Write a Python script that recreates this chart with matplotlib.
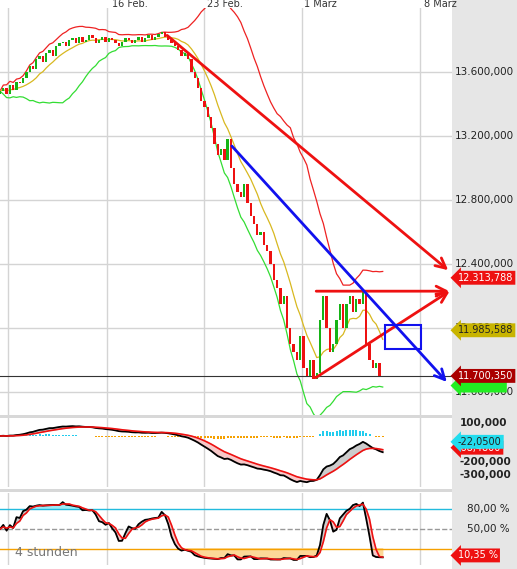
import numpy as np
import pandas as pd
import matplotlib.pyplot as plt
from matplotlib.patches import Rectangle

# closes of the 4h candles (in thousands)
closes = [13480, 13500, 13460, 13520, 13490, 13540, 13530,
          13560, 13600, 13640, 13620, 13680, 13700, 13660, 13720, 13740, 13700, 13760, 13780,
          13790, 13760, 13800, 13810, 13780, 13820, 13790, 13800, 13830, 13810, 13780, 13800,
          13820, 13790, 13810, 13800, 13780, 13760, 13790, 13810, 13800, 13780, 13800, 13820,
          13790, 13810, 13830, 13800, 13820, 13840, 13850, 13820,
          13800, 13780, 13760, 13740, 13700, 13720, 13680,
          13600, 13560, 13500, 13420, 13380, 13320,
          13250, 13150, 13080, 13120, 13050, 13180,
          13000, 12900, 12850, 12820, 12900, 12780,
          12700, 12650, 12580, 12600, 12520, 12480,
          12400, 12300, 12250, 12150, 12200,
          12000, 11900, 11850, 11800, 11950,
          11750, 11700, 11800, 11680, 11720,
          12050, 12200, 12000, 11850,
          11900, 12050, 12150, 12000,
          12150, 12200, 12100, 12180, 12150, 12230,
          11900, 11800, 11750, 11780, 11700, 11700.35]

date_pos = [2.4, 32.4, 61.8, 91.5, 127.3]
date_labels = ['16 Feb.', '23 Feb.', '1 März', '8 März']
date_label_x = [130, 225, 320, 440]
price_ticks = [11600, 12000, 12400, 12800, 13200, 13600]
macd_ticks = [100, -200, -300]
stoch_lines = [80, 50, 20]

# drawn trend lines: (x0, y0, x1, y1)
red_lines = [(50, 13840, 136.5, 12350), (95, 12230, 137, 12230), (95, 11680, 137, 12240)]
blue_line = (69.7, 13150, 136, 11650)
box = (116.7, 11870, 127.6, 12020)

s = pd.Series(closes, dtype=float)
n = len(s)
idx = np.arange(n)
opens = s.shift(1).fillna(s.iloc[0] - 20)

mid = s.rolling(20, min_periods=1).mean()
sd = s.rolling(20, min_periods=2).std().fillna(0)
upper = mid + 2 * sd
lower = mid - 2 * sd
ma = s.rolling(10, min_periods=1).mean()

ema12 = s.ewm(span=12, adjust=False).mean()
ema26 = s.ewm(span=26, adjust=False).mean()
macd = ema12 - ema26
signal = macd.ewm(span=9, adjust=False).mean()
hist = macd - signal

hh = s.rolling(14, min_periods=1).max() + 30
ll = s.rolling(14, min_periods=1).min() - 30
k = (100 * (s - ll) / (hh - ll)).rolling(3, min_periods=1).mean()
d = k.rolling(3, min_periods=1).mean()

W, H = 517, 569
fig = plt.figure(figsize=(W / 100, H / 100), dpi=100)
fig.patch.set_facecolor('white')
fig.patches.append(Rectangle((452 / W, 0), 65 / W, 1, transform=fig.transFigure,
                             facecolor='#e6e6e6', edgecolor='none', zorder=0))

def ax_at(top, bottom):
    a = fig.add_axes([0, 1 - bottom / H, 452 / W, (bottom - top) / H])
    a.set_xlim(0, 137)
    for x in date_pos:
        a.axvline(x, color='#d4d4d4', lw=1, zorder=0)
    a.set_xticks([])
    a.set_yticks([])
    for sp in a.spines.values():
        sp.set_visible(False)
    return a

ax = ax_at(8, 415)
ax.set_ylim(11456, 14000)
for p in price_ticks:
    ax.axhline(p, color='#d4d4d4', lw=1, zorder=0)
    fig.text(514 / W, ax.transData.transform((0, p))[1] / H, f'{p // 1000}.{p % 1000:03d},000',
             ha='right', va='center', fontsize=7.5, color='#222')
up = s >= opens
ax.bar(idx[up], (s - opens)[up], bottom=opens[up], width=0.7, color='#16b316', zorder=3)
ax.bar(idx[~up], (s - opens)[~up], bottom=opens[~up], width=0.7, color='#ee1111', zorder=3)
ax.plot(idx, upper, color='#ee2222', lw=0.9)
ax.plot(idx, lower, color='#33dd33', lw=0.9)
ax.plot(idx, ma, color='#d8b820', lw=0.9)
ax.axhline(11700.35, color='#333', lw=0.8)
for x0, y0, x1, y1 in red_lines:
    ax.annotate('', xy=(x1, y1), xytext=(x0, y0),
                arrowprops=dict(arrowstyle='->', color='#ee1111', lw=2, mutation_scale=18), zorder=5)
x0, y0, x1, y1 = blue_line
ax.annotate('', xy=(x1, y1), xytext=(x0, y0),
            arrowprops=dict(arrowstyle='->', color='#1111ee', lw=2, mutation_scale=18), zorder=5)
ax.add_patch(Rectangle((box[0], box[1]), box[2] - box[0], box[3] - box[1],
                       fill=False, edgecolor='#1111ee', lw=1.5, zorder=6))

def tag(yprice, text, fc, tc='white', a=ax):
    y = a.transData.transform((0, yprice))[1] / H
    fig.text(458 / W, y, text, ha='left', va='center', fontsize=7, color=tc,
             bbox=dict(boxstyle='larrow,pad=0.2', fc=fc, ec='none'), zorder=10)

tag(11640, '               ', '#22ee22')
tag(11700.35, '11.700,350', '#aa0000')
tag(11985.588, '11.985,588', '#c8b400', '#222')
tag(12313.788, '12.313,788', '#ee1111')

for x, lab in zip(date_label_x, date_labels):
    fig.text(x / W, 1 - 4 / H, lab, ha='center', va='center', fontsize=7, color='#333')

# MACD
ax2 = ax_at(418, 487)
ax2.set_ylim(-392, 138)
ax2.bar(idx, hist.clip(upper=0) * 0.3, bottom=-3, width=0.6, color='#f5a000')
ax2.bar(idx[hist > 0], hist[hist > 0] * 0.6, bottom=0, width=0.6, color='#22ccee')
ax2.fill_between(idx, macd, signal, where=macd >= signal, color='#cccccc', interpolate=True)
ax2.fill_between(idx, macd, signal, where=macd < signal, color='#f8c8c8', interpolate=True)
ax2.plot(idx, macd, color='black', lw=1.3)
ax2.plot(idx, signal, color='#ee1111', lw=1.2)
for v in macd_ticks:
    fig.text(460 / W, ax2.transData.transform((0, v))[1] / H, f'{v},000',
             ha='left', va='center', fontsize=7.5, color='#222', fontweight='bold')
tag(-90, '-68,4800', '#ee1111', a=ax2)
tag(-45, '-22,0500', '#22ddee', '#222', a=ax2)

# Stochastic
ax3 = ax_at(493, 565)
ax3.set_ylim(-4.5, 104.5)
ax3.axhline(80, color='#22bbdd', lw=1)
ax3.axhline(50, color='#999', lw=1, ls='--')
ax3.axhline(20, color='#f5a000', lw=1)
ax3.fill_between(idx, k, 80, where=k > 80, color='#9eeaf5', interpolate=True)
ax3.fill_between(idx, k, 20, where=k < 20, color='#fcd898', interpolate=True)
ax3.fill_between(idx, k, d, where=k >= d, color='#cccccc', interpolate=True)
ax3.fill_between(idx, k, d, where=k < d, color='#f8c8c8', interpolate=True)
ax3.plot(idx, k, color='black', lw=1.3)
ax3.plot(idx, d, color='#ee1111', lw=1.2)
for v in stoch_lines[:2]:
    fig.text(510 / W, ax3.transData.transform((0, v))[1] / H, f'{v},00 %',
             ha='right', va='center', fontsize=7.5, color='#222')
tag(10, '10,35 %', '#ee1111', a=ax3)
ax3.text(4.5, 15, '4 stunden', fontsize=9, color='#777', va='center')

for yy in (416, 490):
    fig.patches.append(Rectangle((0, 1 - (yy + 2) / H), 452 / W, 3 / H, transform=fig.transFigure,
                                 facecolor='#d8d8d8', edgecolor='none'))

fig.savefig('out.png', dpi=100)
